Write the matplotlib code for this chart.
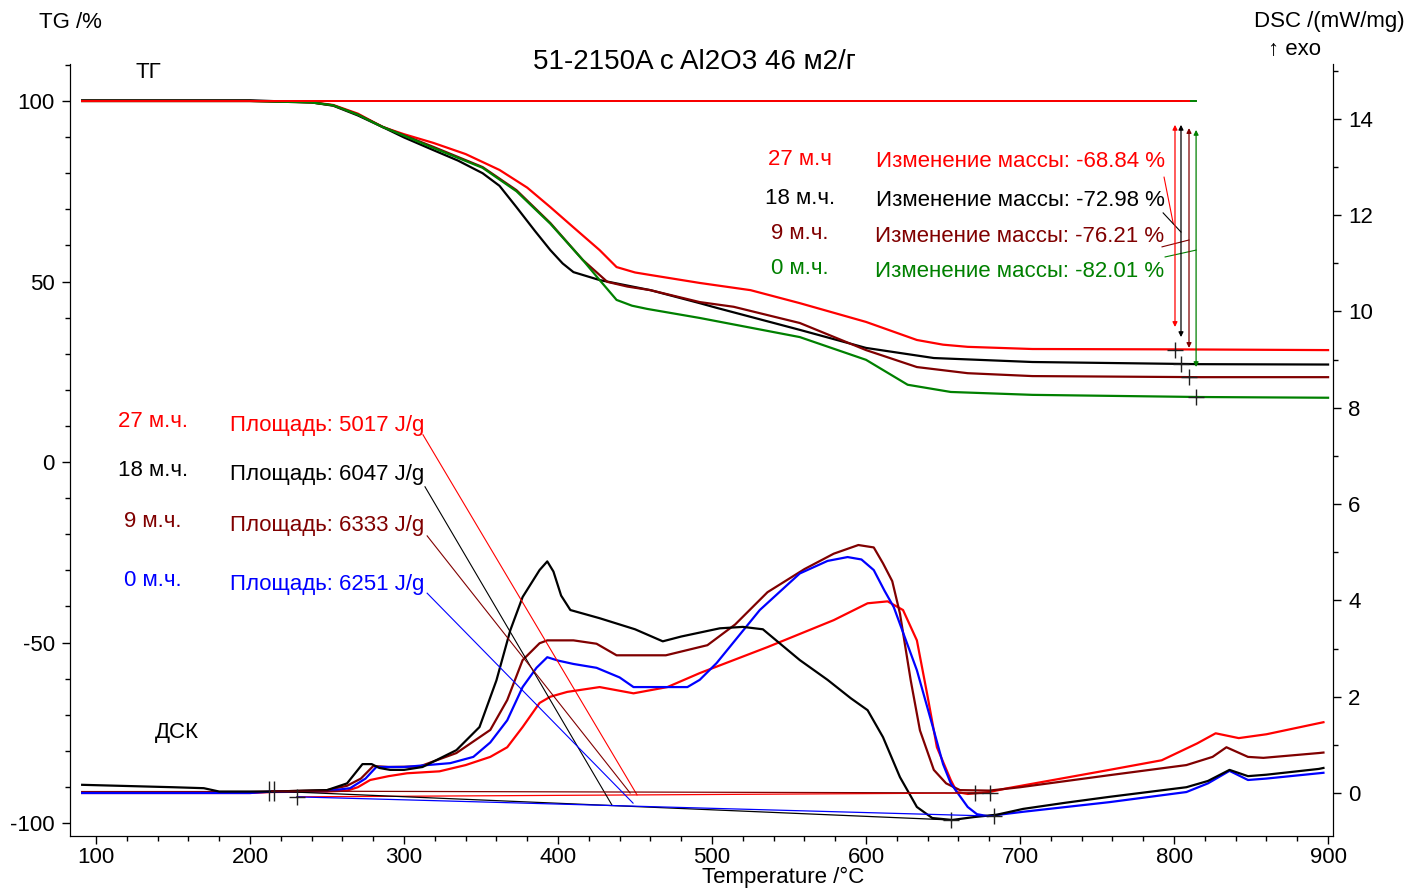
import matplotlib
matplotlib.use('Agg')
import matplotlib.pyplot as plt
from matplotlib.ticker import MultipleLocator

plt.rcParams['font.family'] = ['Liberation Sans', 'DejaVu Sans']
plt.rcParams['axes.unicode_minus'] = False

RED = '#ff0000'
BLACK = '#000000'
BROWN = '#800000'
GREEN = '#008000'
BLUE = '#0000ff'

# --- TG curves (temperature, %) ---
tg_red_t = [91, 200, 240, 254, 270, 286, 300, 319, 340, 362, 380, 395, 410, 427, 438, 450, 460, 492, 525, 557, 600, 633, 650, 666, 708, 800, 900]
tg_red_v = [100, 100, 99.7, 98.9, 96.5, 92.8, 90.8, 88.4, 85.3, 80.9, 76, 70.6, 65, 58.7, 54, 52.5, 51.8, 49.6, 47.6, 44, 38.8, 33.8, 32.5, 31.9, 31.3, 31.2, 31.0]

tg_black_t = [91, 200, 240, 254, 270, 286, 300, 319, 335, 351, 362, 373, 385, 395, 403, 410, 427, 460, 492, 503, 557, 600, 644, 708, 817, 900]
tg_black_v = [100.2, 100.2, 99.6, 98.7, 96, 92.8, 89.9, 86.4, 83.5, 80, 76.5, 70.6, 64, 58.7, 55, 52.6, 50.4, 47.6, 44, 42.7, 36.6, 31.6, 28.8, 27.7, 27.1, 27.0]

tg_brown_t = [91, 200, 240, 254, 270, 286, 300, 319, 351, 373, 395, 416, 432, 445, 460, 492, 514, 557, 600, 633, 666, 708, 817, 900]
tg_brown_v = [100, 100, 99.6, 98.8, 96.3, 92.9, 90.5, 87.3, 81.7, 75.3, 66.2, 56, 49.9, 48.6, 47.6, 44.3, 43, 38.5, 31, 26.3, 24.6, 23.8, 23.5, 23.5]

tg_green_t = [91, 200, 240, 254, 270, 286, 300, 319, 351, 373, 395, 416, 427, 438, 448, 458, 492, 557, 600, 627, 655, 708, 817, 900]
tg_green_v = [100, 100, 99.6, 98.8, 96.2, 92.8, 90.4, 87, 81.5, 75, 66, 56, 50.4, 44.9, 43.3, 42.4, 39.9, 34.6, 28.3, 21.4, 19.4, 18.6, 18.0, 17.8]

# --- DSC curves (temperature, mW/mg) ---
dsc_black_t = [91, 150, 170, 180, 214, 250, 263, 273, 279, 284, 291, 300, 312, 334, 349, 360, 369, 377, 388, 393, 397, 402, 408, 427, 450, 468, 480, 505, 520, 533, 557, 575, 590, 601, 611, 622, 633, 643, 656, 670, 685, 702, 730, 758, 808, 822, 836, 848, 860, 894, 897]
dsc_black_v = [0.17, 0.12, 0.1, 0.03, 0.03, 0.06, 0.2, 0.6, 0.6, 0.52, 0.48, 0.48, 0.54, 0.89, 1.37, 2.34, 3.38, 4.07, 4.63, 4.81, 4.6, 4.1, 3.8, 3.63, 3.4, 3.15, 3.25, 3.42, 3.45, 3.4, 2.76, 2.35, 1.97, 1.72, 1.16, 0.33, -0.29, -0.52, -0.56, -0.5, -0.45, -0.33, -0.2, -0.08, 0.12, 0.25, 0.48, 0.35, 0.38, 0.5, 0.52]

dsc_brown_t = [91, 200, 214, 250, 263, 272, 280, 290, 310, 334, 356, 367, 377, 388, 393, 410, 425, 438, 470, 497, 515, 536, 560, 579, 595, 605, 611, 617, 622, 629, 635, 644, 652, 661, 680, 700, 758, 808, 825, 834, 848, 858, 894, 897]
dsc_brown_v = [0.02, 0.02, 0.03, 0.06, 0.15, 0.3, 0.56, 0.54, 0.55, 0.83, 1.31, 1.93, 2.76, 3.11, 3.17, 3.17, 3.1, 2.86, 2.86, 3.07, 3.5, 4.17, 4.65, 4.97, 5.15, 5.1, 4.77, 4.4, 3.73, 2.34, 1.3, 0.48, 0.2, 0.06, 0.05, 0.12, 0.37, 0.58, 0.75, 0.95, 0.75, 0.73, 0.83, 0.84]

dsc_blue_t = [91, 200, 214, 250, 265, 275, 282, 300, 330, 345, 356, 367, 377, 386, 393, 400, 410, 425, 440, 449, 484, 492, 503, 531, 557, 575, 588, 597, 605, 612, 618, 633, 644, 650, 655, 666, 672, 679, 702, 758, 808, 822, 836, 848, 860, 894, 897]
dsc_blue_v = [0.0, 0.0, 0.03, 0.04, 0.1, 0.3, 0.54, 0.54, 0.62, 0.75, 1.05, 1.51, 2.2, 2.6, 2.82, 2.75, 2.68, 2.6, 2.4, 2.2, 2.2, 2.35, 2.7, 3.8, 4.56, 4.82, 4.9, 4.85, 4.63, 4.2, 3.86, 2.55, 1.3, 0.6, 0.2, -0.29, -0.44, -0.48, -0.39, -0.19, 0.02, 0.2, 0.46, 0.27, 0.3, 0.41, 0.42]

dsc_red_t = [91, 200, 214, 250, 263, 270, 278, 290, 302, 323, 340, 356, 367, 377, 388, 395, 406, 427, 449, 471, 492, 536, 579, 601, 614, 624, 633, 640, 646, 655, 659, 666, 680, 692, 758, 792, 815, 827, 842, 860, 894, 897]
dsc_red_v = [0.0, 0.0, 0.02, 0.03, 0.05, 0.12, 0.27, 0.35, 0.41, 0.45, 0.58, 0.75, 0.95, 1.37, 1.87, 2.0, 2.1, 2.2, 2.07, 2.2, 2.49, 3.03, 3.59, 3.94, 3.98, 3.8, 3.17, 2.0, 0.95, 0.27, 0.02, -0.02, 0.02, 0.1, 0.48, 0.68, 1.03, 1.24, 1.14, 1.22, 1.45, 1.47]

# --- mass change evaluation (TG) ---
mass_labels = ['27 м.ч', '18 м.ч.', '9 м.ч.', '0 м.ч.']
mass_changes = ['-68.84', '-72.98', '-76.21', '-82.01']
mass_colors = [RED, BLACK, BROWN, GREEN]
mass_label_y = [83.9, 73.1, 63.2, 53.5]
mass_arrow_t = [800.6, 804.5, 809.7, 814.3]
mass_arrow_top = [93.4, 93.4, 92.5, 92.0]
mass_arrow_bottom = [37.4, 34.6, 31.6, 26.3]
mass_end_tg = [31.0, 27.1, 23.5, 18.0]
mass_leader_start = [(793.5, 78.9), (792.9, 69.0), (792.2, 59.6), (794.2, 56.8)]
mass_leader_end = [(799.4, 66.2), (804.5, 63.7), (809.7, 61.5), (814.3, 58.7)]

# --- peak area evaluation (DSC) ---
area_labels = ['27 м.ч.', '18 м.ч.', '9 м.ч.', '0 м.ч.']
area_values = ['5017', '6047', '6333', '6251']
area_colors = [RED, BLACK, BROWN, BLUE]
area_label_y = [7.72, 6.70, 5.64, 4.42]
area_base_start = [(230.5, -0.08), (214, 0.04), (214, 0.04), (230.5, -0.08)]
area_base_end = [(671, 0.0), (655, -0.56), (680.5, 0.0), (683, -0.48)]
area_leader_start = [(312.3, 7.44), (313.6, 6.36), (315, 5.34), (315, 4.15)]
area_leader_end = [(451.3, -0.04), (435, -0.25), (446.8, 0.0), (448.7, -0.21)]

FS = 16

fig = plt.figure(figsize=(14.1, 8.89), dpi=100)
ax = fig.add_axes([70 / 1410, 53 / 889, 1263 / 1410, 772 / 889])
ax2 = ax.twinx()

# TG
for t, v, c in [(tg_red_t, tg_red_v, RED), (tg_black_t, tg_black_v, BLACK),
                (tg_brown_t, tg_brown_v, BROWN), (tg_green_t, tg_green_v, GREEN)]:
    ax.plot(t, v, color=c, lw=1.6)

# reference lines at 100 %
for c, xa in zip([GREEN, BLACK, RED], [814.3, 804.5, 809.7]):
    ax.plot([91, xa], [100, 100], color=c, lw=1.4)

for i in range(4):
    c = mass_colors[i]
    ax.annotate('', xy=(mass_arrow_t[i], mass_arrow_bottom[i]),
                xytext=(mass_arrow_t[i], mass_arrow_top[i]),
                arrowprops=dict(arrowstyle='<|-|>', color=c, lw=0.9,
                                mutation_scale=7, shrinkA=0, shrinkB=0))
    ax.plot([mass_leader_start[i][0], mass_leader_end[i][0]],
            [mass_leader_start[i][1], mass_leader_end[i][1]], color=c, lw=0.8)
    ax.plot([mass_arrow_t[i]], [mass_end_tg[i]], marker='+', color='#202020',
            ms=11, mew=1.0)
    ax.text(557, mass_label_y[i], mass_labels[i], color=c, fontsize=FS,
            ha='center', va='center')
    ax.text(700, mass_label_y[i] - 0.6, 'Изменение массы: ' + mass_changes[i] + ' %',
            color=c, fontsize=FS, ha='center', va='center')

ax.text(134, 107.8, 'ТГ', fontsize=FS, ha='center', va='center')

# DSC
for t, v, c in [(dsc_red_t, dsc_red_v, RED), (dsc_brown_t, dsc_brown_v, BROWN),
                (dsc_blue_t, dsc_blue_v, BLUE), (dsc_black_t, dsc_black_v, BLACK)]:
    ax2.plot(t, v, color=c, lw=1.6)

for i in range(4):
    c = area_colors[i]
    ax2.plot([area_base_start[i][0], area_base_end[i][0]],
             [area_base_start[i][1], area_base_end[i][1]], color=c, lw=0.9)
    ax2.plot([area_leader_start[i][0], area_leader_end[i][0]],
             [area_leader_start[i][1], area_leader_end[i][1]], color=c, lw=0.8)
    ax2.plot([area_base_end[i][0]], [area_base_end[i][1]], marker='+',
             color='#202020', ms=12, mew=1.0)
    ax2.text(137, area_label_y[i], area_labels[i], color=c, fontsize=FS,
             ha='center', va='center')
    ax2.text(250, area_label_y[i] - 0.08, 'Площадь: ' + area_values[i] + ' J/g',
             color=c, fontsize=FS, ha='center', va='center')

ax2.plot([212.5, 215.5], [0.04, 0.04], ls='none', marker='|', color='#202020',
         ms=14, mew=1.0)
ax2.plot([230.5], [-0.08], marker='+', color='#202020', ms=12, mew=1.0)
ax2.text(152.6, 1.25, 'ДСК', fontsize=FS, ha='center', va='center')

# axes
ax.set_xlim(83.1, 903.2)
ax.set_ylim(-103.6, 110.25)
ax2.set_ylim(-0.893, 15.14)

ax.xaxis.set_major_locator(MultipleLocator(100))
ax.xaxis.set_minor_locator(MultipleLocator(20))
ax.yaxis.set_major_locator(MultipleLocator(50))
ax.yaxis.set_minor_locator(MultipleLocator(10))
ax2.yaxis.set_major_locator(MultipleLocator(2))
ax2.yaxis.set_minor_locator(MultipleLocator(1))

for a in (ax, ax2):
    a.spines['top'].set_visible(False)
    a.tick_params(which='major', direction='out', length=6, width=1,
                  labelsize=FS, pad=5)
    a.tick_params(which='minor', direction='out', length=3.5, width=1)
ax.tick_params(axis='x', pad=2)

ax.set_xlabel('Temperature /°C', fontsize=FS)
ax.xaxis.set_label_coords((783 - 70) / 1263, -(877 - 836) / 772)
ax.xaxis.label.set_va('center')

fig.text(70 / 1410, 1 - 22 / 889, 'TG /%', fontsize=FS, ha='center', va='center')
fig.text(1405 / 1410, 1 - 22 / 889, 'DSC /(mW/mg)', fontsize=FS, ha='right', va='center')
fig.text(1295 / 1410, 1 - 50 / 889, '↑ exo', fontsize=FS, ha='center', va='center')
fig.text(694 / 1410, 1 - 62 / 889, '51-2150A с Al2O3 46 м2/г', fontsize=20,
         ha='center', va='center')

fig.savefig('out.png', dpi=100)
